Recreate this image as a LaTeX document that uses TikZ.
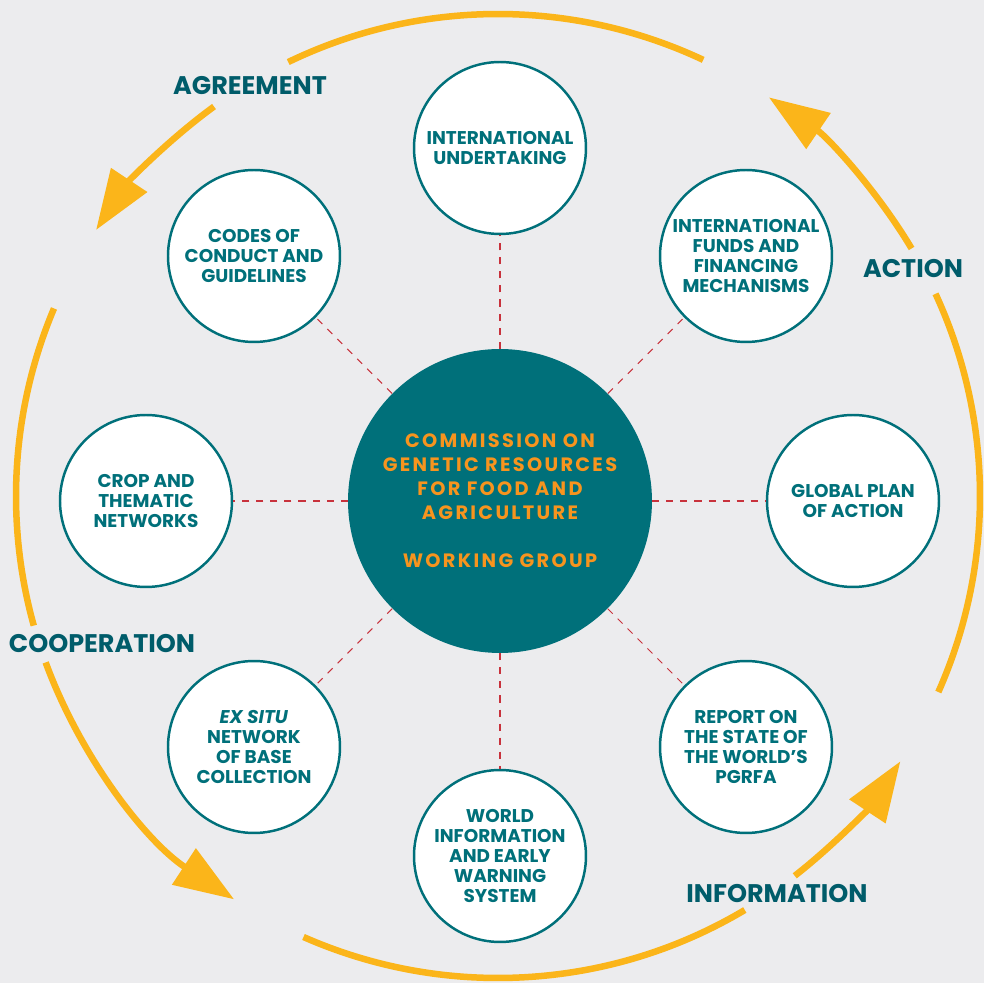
\documentclass[tikz,border=0pt]{standalone}
\usepackage{fontspec}
\setmainfont{Poppins}
\usetikzlibrary{arrows.meta}
\definecolor{paper}{RGB}{236,236,238}
\definecolor{petrol}{RGB}{0,112,122}
\definecolor{deeppetrol}{RGB}{0,92,106}
\definecolor{amber}{RGB}{251,181,26}
\definecolor{tangerine}{RGB}{247,148,30}
\definecolor{dashred}{RGB}{200,50,60}
\tikzset{
	sat/.style={circle, draw=petrol, line width=1.4pt, fill=white, minimum size=3.44cm, inner sep=0pt, align=center, text=petrol, font=\bfseries\fontsize{10.5}{11.4}\selectfont},
	hub/.style={circle, fill=petrol, minimum size=6.08cm, inner sep=0pt, align=center, text=tangerine, font=\bfseries\fontsize{11}{13.7}\selectfont\addfontfeature{LetterSpace=12}},
	spoke/.style={draw=dashred, line width=0.6pt, dash pattern=on 4pt off 4pt},
	cyc/.style={draw=amber, line width=3.7pt},
	cycarrow/.style={cyc, -{Triangle[length=1.2cm, width=0.84cm]}},
	lbl/.style={text=deeppetrol, font=\bfseries\fontsize{14.5}{16}\selectfont},
}
\begin{document}
\begin{tikzpicture}[x=0.02cm, y=0.02cm]
	\useasboundingbox (-500,-483) rectangle (484,500);
	\fill [paper] (-500,-483) rectangle (484,500);

	\coordinate (ring) at (-2,4);
	\draw [cyc] ([shift={(64.8:482)}]ring) arc[start angle=64.8, end angle=115.8, radius=482];
	\draw [cycarrow] ([shift={(126.1:482)}]ring) arc[start angle=126.1, end angle=146.5, radius=482];
	\draw [cyc] ([shift={(157.1:482)}]ring) arc[start angle=157.1, end angle=195.6, radius=482];
	\draw [cycarrow] ([shift={(200.2:482)}]ring) arc[start angle=200.2, end angle=236.8, radius=482];
	\draw [cyc] ([shift={(246.2:482)}]ring) arc[start angle=246.2, end angle=300.8, radius=482];
	\draw [cycarrow] ([shift={(308:482)}]ring) arc[start angle=308, end angle=326.6, radius=482];
	\draw [cyc] ([shift={(-24:482)}]ring) arc[start angle=-24, end angle=24.8, radius=482];
	\draw [cycarrow] ([shift={(30.9:482)}]ring) arc[start angle=30.9, end angle=55.8, radius=482];

	\node [lbl] (agreement) at (-250,414) {AGREEMENT};
	\node [lbl] (action) at (413,231) {ACTION};
	\node [lbl] (cooperation) at (-398,-144) {COOPERATION};
	\node [lbl] (information) at (277,-394) {INFORMATION};

	\node [hub] (commission) at (0,-1) {COMMISSION ON\\GENETIC RESOURCES\\FOR FOOD AND\\AGRICULTURE\\[13.7pt]WORKING GROUP};

	\node [sat] (undertaking) at (0,352) {INTERNATIONAL\\UNDERTAKING};
	\node [sat] (funds) at (246,244) {INTERNATIONAL\\FUNDS AND\\FINANCING\\MECHANISMS};
	\node [sat] (globalplan) at (353,-1) {GLOBAL PLAN\\OF ACTION};
	\node [sat] (report) at (246,-247) {REPORT ON\\THE STATE OF\\THE WORLD'S\\PGRFA};
	\node [sat] (worldinfo) at (0,-356) {WORLD\\INFORMATION\\AND EARLY\\WARNING\\SYSTEM};
	\node [sat] (exsitu) at (-246,-247) {\textit{EX SITU}\\NETWORK\\OF BASE\\COLLECTION};
	\node [sat] (crop) at (-354,-1) {CROP AND\\THEMATIC\\NETWORKS};
	\node [sat] (codes) at (-246,244) {CODES OF\\CONDUCT AND\\GUIDELINES};

	\draw [spoke] (commission) -- (undertaking);
	\draw [spoke] (commission) -- (funds);
	\draw [spoke] (commission) -- (globalplan);
	\draw [spoke] (commission) -- (report);
	\draw [spoke] (commission) -- (worldinfo);
	\draw [spoke] (commission) -- (exsitu);
	\draw [spoke] (commission) -- (crop);
	\draw [spoke] (commission) -- (codes);
\end{tikzpicture}
\end{document}
